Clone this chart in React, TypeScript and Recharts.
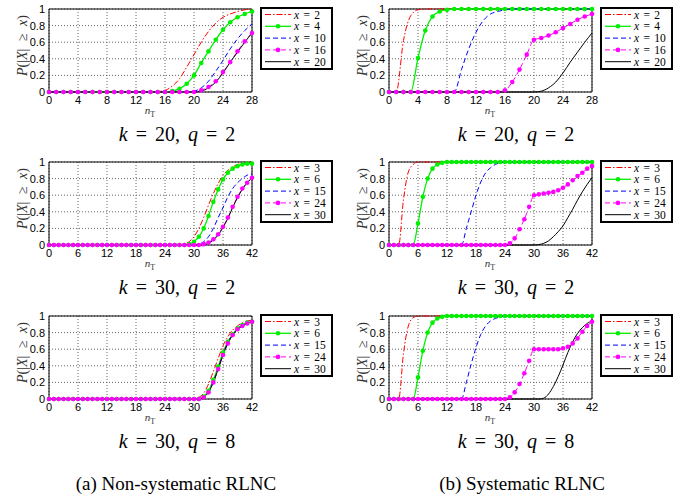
import React from "react";
import { LineChart, Line, XAxis, YAxis, CartesianGrid, ReferenceArea } from "recharts";

// n_T values (received packets)
const nK20 = [0, 1, 2, 3, 4, 5, 6, 7, 8, 9, 10, 11, 12, 13, 14, 15, 16, 17, 18, 19, 20, 21, 22, 23, 24, 25, 26, 27, 28];
const nK30 = [
  0, 1, 2, 3, 4, 5, 6, 7, 8, 9, 10, 11, 12, 13, 14, 15, 16, 17, 18, 19, 20,
  21, 22, 23, 24, 25, 26, 27, 28, 29, 30, 31, 32, 33, 34, 35, 36, 37, 38, 39, 40, 41, 42,
];
const ticksK20 = [0, 4, 8, 12, 16, 20, 24, 28];
const ticksK30 = [0, 6, 12, 18, 24, 30, 36, 42];
const yTicks = [0, 0.2, 0.4, 0.6, 0.8, 1];
const legendK20 = [2, 4, 10, 16, 20];
const legendK30 = [3, 6, 15, 24, 30];

// (a) non-systematic, k = 20, q = 2
const tlX2 = [0, 0, 0, 0, 0, 0, 0, 0, 0, 0, 0, 0, 0, 0, 0, 0.005, 0.02, 0.07, 0.16, 0.3, 0.45, 0.6, 0.73, 0.83, 0.9, 0.94, 0.97, 0.99, 1];
const tlX4 = [0, 0, 0, 0, 0, 0, 0, 0, 0, 0, 0, 0, 0, 0, 0, 0, 0, 0.01, 0.04, 0.1, 0.2, 0.35, 0.49, 0.63, 0.75, 0.84, 0.9, 0.94, 0.97];
const tlX10 = [0, 0, 0, 0, 0, 0, 0, 0, 0, 0, 0, 0, 0, 0, 0, 0, 0, 0, 0, 0, 0.01, 0.05, 0.13, 0.25, 0.38, 0.52, 0.64, 0.74, 0.82];
const tlX16 = [0, 0, 0, 0, 0, 0, 0, 0, 0, 0, 0, 0, 0, 0, 0, 0, 0, 0, 0, 0, 0, 0.02, 0.06, 0.13, 0.24, 0.36, 0.49, 0.61, 0.71];
const tlX20 = [0, 0, 0, 0, 0, 0, 0, 0, 0, 0, 0, 0, 0, 0, 0, 0, 0, 0, 0, 0, 0, 0.01, 0.05, 0.12, 0.23, 0.36, 0.48, 0.6, 0.71];

// (b) systematic, k = 20, q = 2
const trX2 = [0, 0, 0.62, 0.92, 0.99, 1, 1, 1, 1, 1, 1, 1, 1, 1, 1, 1, 1, 1, 1, 1, 1, 1, 1, 1, 1, 1, 1, 1, 1];
const trX4 = [0, 0, 0, 0, 0.41, 0.74, 0.91, 0.97, 0.99, 1, 1, 1, 1, 1, 1, 1, 1, 1, 1, 1, 1, 1, 1, 1, 1, 1, 1, 1, 1];
const trX10 = [0, 0, 0, 0, 0, 0, 0, 0, 0, 0, 0.27, 0.52, 0.72, 0.86, 0.94, 0.97, 0.99, 1, 1, 1, 1, 1, 1, 1, 1, 1, 1, 1, 1];
const trX16 = [0, 0, 0, 0, 0, 0, 0, 0, 0, 0, 0, 0, 0, 0, 0, 0, 0.02, 0.12, 0.27, 0.45, 0.63, 0.65, 0.68, 0.72, 0.77, 0.82, 0.87, 0.91, 0.94];
const trX20 = [0, 0, 0, 0, 0, 0, 0, 0, 0, 0, 0, 0, 0, 0, 0, 0, 0, 0, 0, 0, 0, 0.01, 0.05, 0.12, 0.23, 0.36, 0.48, 0.6, 0.71];

// (a) non-systematic, k = 30, q = 2
const mlX3 = [
  0, 0, 0, 0, 0, 0, 0, 0, 0, 0, 0, 0, 0, 0, 0, 0, 0, 0, 0, 0, 0, 0, 0, 0, 0, 0, 0, 0,
  0.01, 0.04, 0.1, 0.2, 0.33, 0.48, 0.62, 0.74, 0.84, 0.9, 0.94, 0.97, 0.98, 0.99, 1,
];
const mlX6 = [
  0, 0, 0, 0, 0, 0, 0, 0, 0, 0, 0, 0, 0, 0, 0, 0, 0, 0, 0, 0, 0, 0, 0, 0, 0, 0, 0, 0, 0,
  0.01, 0.04, 0.1, 0.2, 0.35, 0.52, 0.67, 0.79, 0.87, 0.92, 0.95, 0.97, 0.98, 0.98,
];
const mlX15 = [
  0, 0, 0, 0, 0, 0, 0, 0, 0, 0, 0, 0, 0, 0, 0, 0, 0, 0, 0, 0, 0, 0, 0, 0, 0, 0, 0, 0, 0, 0, 0,
  0.01, 0.04, 0.1, 0.2, 0.33, 0.45, 0.58, 0.68, 0.75, 0.8, 0.84, 0.86,
];
const mlX24 = [
  0, 0, 0, 0, 0, 0, 0, 0, 0, 0, 0, 0, 0, 0, 0, 0, 0, 0, 0, 0, 0, 0, 0, 0, 0, 0, 0, 0, 0, 0, 0, 0,
  0.01, 0.03, 0.07, 0.13, 0.22, 0.33, 0.46, 0.58, 0.68, 0.75, 0.81,
];
const mlX30 = [
  0, 0, 0, 0, 0, 0, 0, 0, 0, 0, 0, 0, 0, 0, 0, 0, 0, 0, 0, 0, 0, 0, 0, 0, 0, 0, 0, 0, 0, 0, 0, 0,
  0.005, 0.02, 0.06, 0.12, 0.21, 0.32, 0.45, 0.57, 0.67, 0.75, 0.81,
];

// (b) systematic, k = 30, q = 2
const mrX3 = [
  0, 0, 0, 0.55, 0.88, 0.97,
  1, 1, 1, 1, 1, 1, 1, 1, 1, 1, 1, 1, 1, 1, 1, 1, 1, 1, 1, 1, 1, 1, 1, 1, 1, 1, 1, 1, 1, 1, 1, 1, 1, 1, 1, 1, 1,
];
const mrX6 = [
  0, 0, 0, 0, 0, 0, 0.26, 0.58, 0.8, 0.92, 0.97, 0.99,
  1, 1, 1, 1, 1, 1, 1, 1, 1, 1, 1, 1, 1, 1, 1, 1, 1, 1, 1, 1, 1, 1, 1, 1, 1, 1, 1, 1, 1, 1, 1,
];
const mrX15 = [
  0, 0, 0, 0, 0, 0, 0, 0, 0, 0, 0, 0, 0, 0, 0, 0,
  0.2, 0.4, 0.6, 0.76, 0.87, 0.93, 0.97, 0.99,
  1, 1, 1, 1, 1, 1, 1, 1, 1, 1, 1, 1, 1, 1, 1, 1, 1, 1, 1,
];
const mrX24 = [
  0, 0, 0, 0, 0, 0, 0, 0, 0, 0, 0, 0, 0, 0, 0, 0, 0, 0, 0, 0, 0, 0, 0, 0, 0,
  0.02, 0.08, 0.19, 0.31, 0.46, 0.6, 0.61, 0.62, 0.63, 0.64, 0.66, 0.69, 0.73, 0.78, 0.83, 0.87, 0.92, 0.95,
];
const mrX30 = [
  0, 0, 0, 0, 0, 0, 0, 0, 0, 0, 0, 0, 0, 0, 0, 0, 0, 0, 0, 0, 0, 0, 0, 0, 0, 0, 0, 0, 0, 0, 0,
  0.005, 0.02, 0.05, 0.1, 0.16, 0.23, 0.33, 0.43, 0.54, 0.64, 0.73, 0.81,
];

// (a) non-systematic, k = 30, q = 8
const blX3 = [
  0, 0, 0, 0, 0, 0, 0, 0, 0, 0, 0, 0, 0, 0, 0, 0, 0, 0, 0, 0, 0, 0, 0, 0, 0, 0, 0, 0, 0, 0, 0,
  0.02, 0.07, 0.18, 0.33, 0.49, 0.64, 0.75, 0.83, 0.88, 0.92, 0.94, 0.95,
];
const blX6 = [
  0, 0, 0, 0, 0, 0, 0, 0, 0, 0, 0, 0, 0, 0, 0, 0, 0, 0, 0, 0, 0, 0, 0, 0, 0, 0, 0, 0, 0, 0, 0, 0,
  0.03, 0.1, 0.23, 0.39, 0.56, 0.69, 0.78, 0.85, 0.89, 0.92, 0.93,
];
const blX15 = [
  0, 0, 0, 0, 0, 0, 0, 0, 0, 0, 0, 0, 0, 0, 0, 0, 0, 0, 0, 0, 0, 0, 0, 0, 0, 0, 0, 0, 0, 0, 0, 0,
  0.02, 0.09, 0.21, 0.37, 0.54, 0.68, 0.78, 0.84, 0.89, 0.91, 0.93,
];
const blX24 = [
  0, 0, 0, 0, 0, 0, 0, 0, 0, 0, 0, 0, 0, 0, 0, 0, 0, 0, 0, 0, 0, 0, 0, 0, 0, 0, 0, 0, 0, 0, 0, 0,
  0.02, 0.08, 0.2, 0.36, 0.53, 0.67, 0.77, 0.84, 0.88, 0.91, 0.93,
];
const blX30 = [
  0, 0, 0, 0, 0, 0, 0, 0, 0, 0, 0, 0, 0, 0, 0, 0, 0, 0, 0, 0, 0, 0, 0, 0, 0, 0, 0, 0, 0, 0, 0, 0,
  0.02, 0.08, 0.2, 0.36, 0.53, 0.67, 0.77, 0.84, 0.88, 0.91, 0.93,
];

// (b) systematic, k = 30, q = 8
const brX3 = [
  0, 0, 0, 0.55, 0.88, 0.98,
  1, 1, 1, 1, 1, 1, 1, 1, 1, 1, 1, 1, 1, 1, 1, 1, 1, 1, 1, 1, 1, 1, 1, 1, 1, 1, 1, 1, 1, 1, 1, 1, 1, 1, 1, 1, 1,
];
const brX6 = [
  0, 0, 0, 0, 0, 0, 0.26, 0.58, 0.8, 0.92, 0.97, 0.99,
  1, 1, 1, 1, 1, 1, 1, 1, 1, 1, 1, 1, 1, 1, 1, 1, 1, 1, 1, 1, 1, 1, 1, 1, 1, 1, 1, 1, 1, 1, 1,
];
const brX15 = [
  0, 0, 0, 0, 0, 0, 0, 0, 0, 0, 0, 0, 0, 0, 0, 0,
  0.2, 0.42, 0.62, 0.78, 0.88, 0.94, 0.97, 0.99,
  1, 1, 1, 1, 1, 1, 1, 1, 1, 1, 1, 1, 1, 1, 1, 1, 1, 1, 1,
];
const brX24 = [
  0, 0, 0, 0, 0, 0, 0, 0, 0, 0, 0, 0, 0, 0, 0, 0, 0, 0, 0, 0, 0, 0, 0, 0, 0,
  0.02, 0.08, 0.18, 0.31, 0.46, 0.6, 0.6, 0.6, 0.6, 0.6, 0.6, 0.61, 0.63, 0.67, 0.73, 0.81, 0.88, 0.93,
];
const brX30 = [
  0, 0, 0, 0, 0, 0, 0, 0, 0, 0, 0, 0, 0, 0, 0, 0, 0, 0, 0, 0, 0, 0, 0, 0, 0, 0, 0, 0, 0, 0, 0, 0,
  0.01, 0.06, 0.15, 0.27, 0.41, 0.56, 0.69, 0.79, 0.86, 0.91, 0.94,
];

const STYLES = [
  { color: "#ff0000", dash: "6 2 1.5 2", width: 1, dot: false },
  { color: "#00f000", dash: undefined, width: 1.3, dot: true },
  { color: "#0000ff", dash: "5 3", width: 1, dot: false },
  { color: "#ff00ff", dash: "5 3", width: 1, dot: true },
  { color: "#000000", dash: undefined, width: 1, dot: false },
];

const ROWS = [
  { top: 0, n: nK20, ticks: ticksK20, max: 28, legend: legendK20, k: 20, q: 2, a: [tlX2, tlX4, tlX10, tlX16, tlX20], b: [trX2, trX4, trX10, trX16, trX20] },
  { top: 153, n: nK30, ticks: ticksK30, max: 42, legend: legendK30, k: 30, q: 2, a: [mlX3, mlX6, mlX15, mlX24, mlX30], b: [mrX3, mrX6, mrX15, mrX24, mrX30] },
  { top: 307, n: nK30, ticks: ticksK30, max: 42, legend: legendK30, k: 30, q: 8, a: [blX3, blX6, blX15, blX24, blX30], b: [brX3, brX6, brX15, brX24, brX30] },
];
const COLS = [0, 340];

const tickStyle = { fontSize: 11, fill: "#000", fontFamily: "Liberation Sans, Arial, sans-serif" };
const serif = "'Liberation Serif', 'Times New Roman', serif";

function Panel({ n, ticks, max, series }: { n: number[]; ticks: number[]; max: number; series: number[][] }) {
  const data = n.map((v, i) => {
    const row: Record<string, number> = { n: v };
    series.forEach((s, j) => {
      row["s" + j] = s[i];
    });
    return row;
  });
  return (
    <LineChart width={345} height={125} data={data} margin={{ top: 9, right: 93, bottom: 8, left: 9 }}>
      <CartesianGrid stroke="#666" strokeDasharray="1 2" />
      <XAxis
        dataKey="n"
        type="number"
        domain={[0, max]}
        ticks={ticks}
        interval={0}
        tickLine={false}
        axisLine={false}
        tickSize={0}
        tickMargin={4}
        height={25}
        tick={tickStyle}
      />
      <YAxis
        type="number"
        domain={[0, 1]}
        ticks={yTicks}
        interval={0}
        width={40}
        tickLine={false}
        axisLine={false}
        tickSize={0}
        tickMargin={4}
        tick={tickStyle}
        tickFormatter={(v: number) => (v === 0 || v === 1 ? String(v) : v.toFixed(1))}
      />
      {STYLES.map((s, j) => (
        <Line
          key={j}
          type="monotone"
          dataKey={"s" + j}
          stroke={s.color}
          strokeWidth={s.width}
          strokeDasharray={s.dash}
          dot={s.dot ? { r: 2.3, fill: s.color, stroke: "none" } : false}
          activeDot={false}
          isAnimationActive={false}
        />
      ))}
      <ReferenceArea x1={0} x2={max} y1={0} y2={1} fill="none" stroke="#000" strokeWidth={1} ifOverflow="visible" />
    </LineChart>
  );
}

function LegendBox({ x, y, values }: { x: number; y: number; values: number[] }) {
  return (
    <g transform={`translate(${x},${y})`}>
      <rect x={1} y={1} width={71} height={61} fill="#fff" stroke="#000" strokeWidth={2} />
      {values.map((v, i) => {
        const s = STYLES[i];
        const cy = 7.5 + i * 11.8;
        return (
          <g key={i}>
            <line x1={5} x2={31} y1={cy} y2={cy} stroke={s.color} strokeWidth={s.width} strokeDasharray={s.dash} />
            {s.dot && <circle cx={18} cy={cy} r={2.3} fill={s.color} />}
            <text x={34} y={cy + 4} fontSize={11.5} fontFamily={serif} fill="#000" wordSpacing={1.5}>
              <tspan fontStyle="italic">x</tspan>
              {" = " + v}
            </text>
          </g>
        );
      })}
    </g>
  );
}

export default function App() {
  return (
    <div style={{ position: "absolute", left: 0, top: 0, width: 685, height: 497, background: "#fff" }}>
      {ROWS.map((r, ri) =>
        COLS.map((cx, ci) => (
          <div key={ri + "-" + ci} style={{ position: "absolute", left: cx, top: r.top }}>
            <Panel n={r.n} ticks={r.ticks} max={r.max} series={ci === 0 ? r.a : r.b} />
          </div>
        ))
      )}
      <svg width={685} height={497} style={{ position: "absolute", left: 0, top: 0, pointerEvents: "none" }}>
        {ROWS.map((r, ri) =>
          COLS.map((cx, ci) => {
            const pt = r.top + 9;
            const pb = r.top + 92;
            return (
              <g key={ri + "-" + ci}>
                <text
                  transform={`translate(${cx + 27},${(pt + pb) / 2 - 5}) rotate(-90)`}
                  textAnchor="middle"
                  fontSize={14}
                  fontFamily={serif}
                  fill="#333"
                  wordSpacing={4}
                >
                  <tspan fontStyle="italic">P</tspan>(|<tspan fontStyle="italic">X</tspan>| ≥ <tspan fontStyle="italic">x</tspan>)
                </text>
                <text x={cx + 150} y={pb + 22} textAnchor="middle" fontSize={11} fontFamily={serif} fill="#333">
                  <tspan fontStyle="italic">n</tspan>
                  <tspan fontSize={8} dy={3}>T</tspan>
                </text>
                <LegendBox x={cx + 260} y={r.top + 7} values={r.legend} />
                <text
                  x={ci === 0 ? 177 : 516}
                  y={r.top + 141}
                  textAnchor="middle"
                  fontSize={20}
                  fontFamily={serif}
                  fill="#000"
                  wordSpacing={3}
                >
                  <tspan fontStyle="italic">k</tspan>
                  {" = " + r.k + ", "}
                  <tspan fontStyle="italic">q</tspan>
                  {" = " + r.q}
                </text>
              </g>
            );
          })
        )}
        <text x={176} y={490} textAnchor="middle" fontSize={19} fontFamily={serif} fill="#000">
          (a) Non-systematic RLNC
        </text>
        <text x={522} y={490} textAnchor="middle" fontSize={19} fontFamily={serif} fill="#000">
          (b) Systematic RLNC
        </text>
      </svg>
    </div>
  );
}
